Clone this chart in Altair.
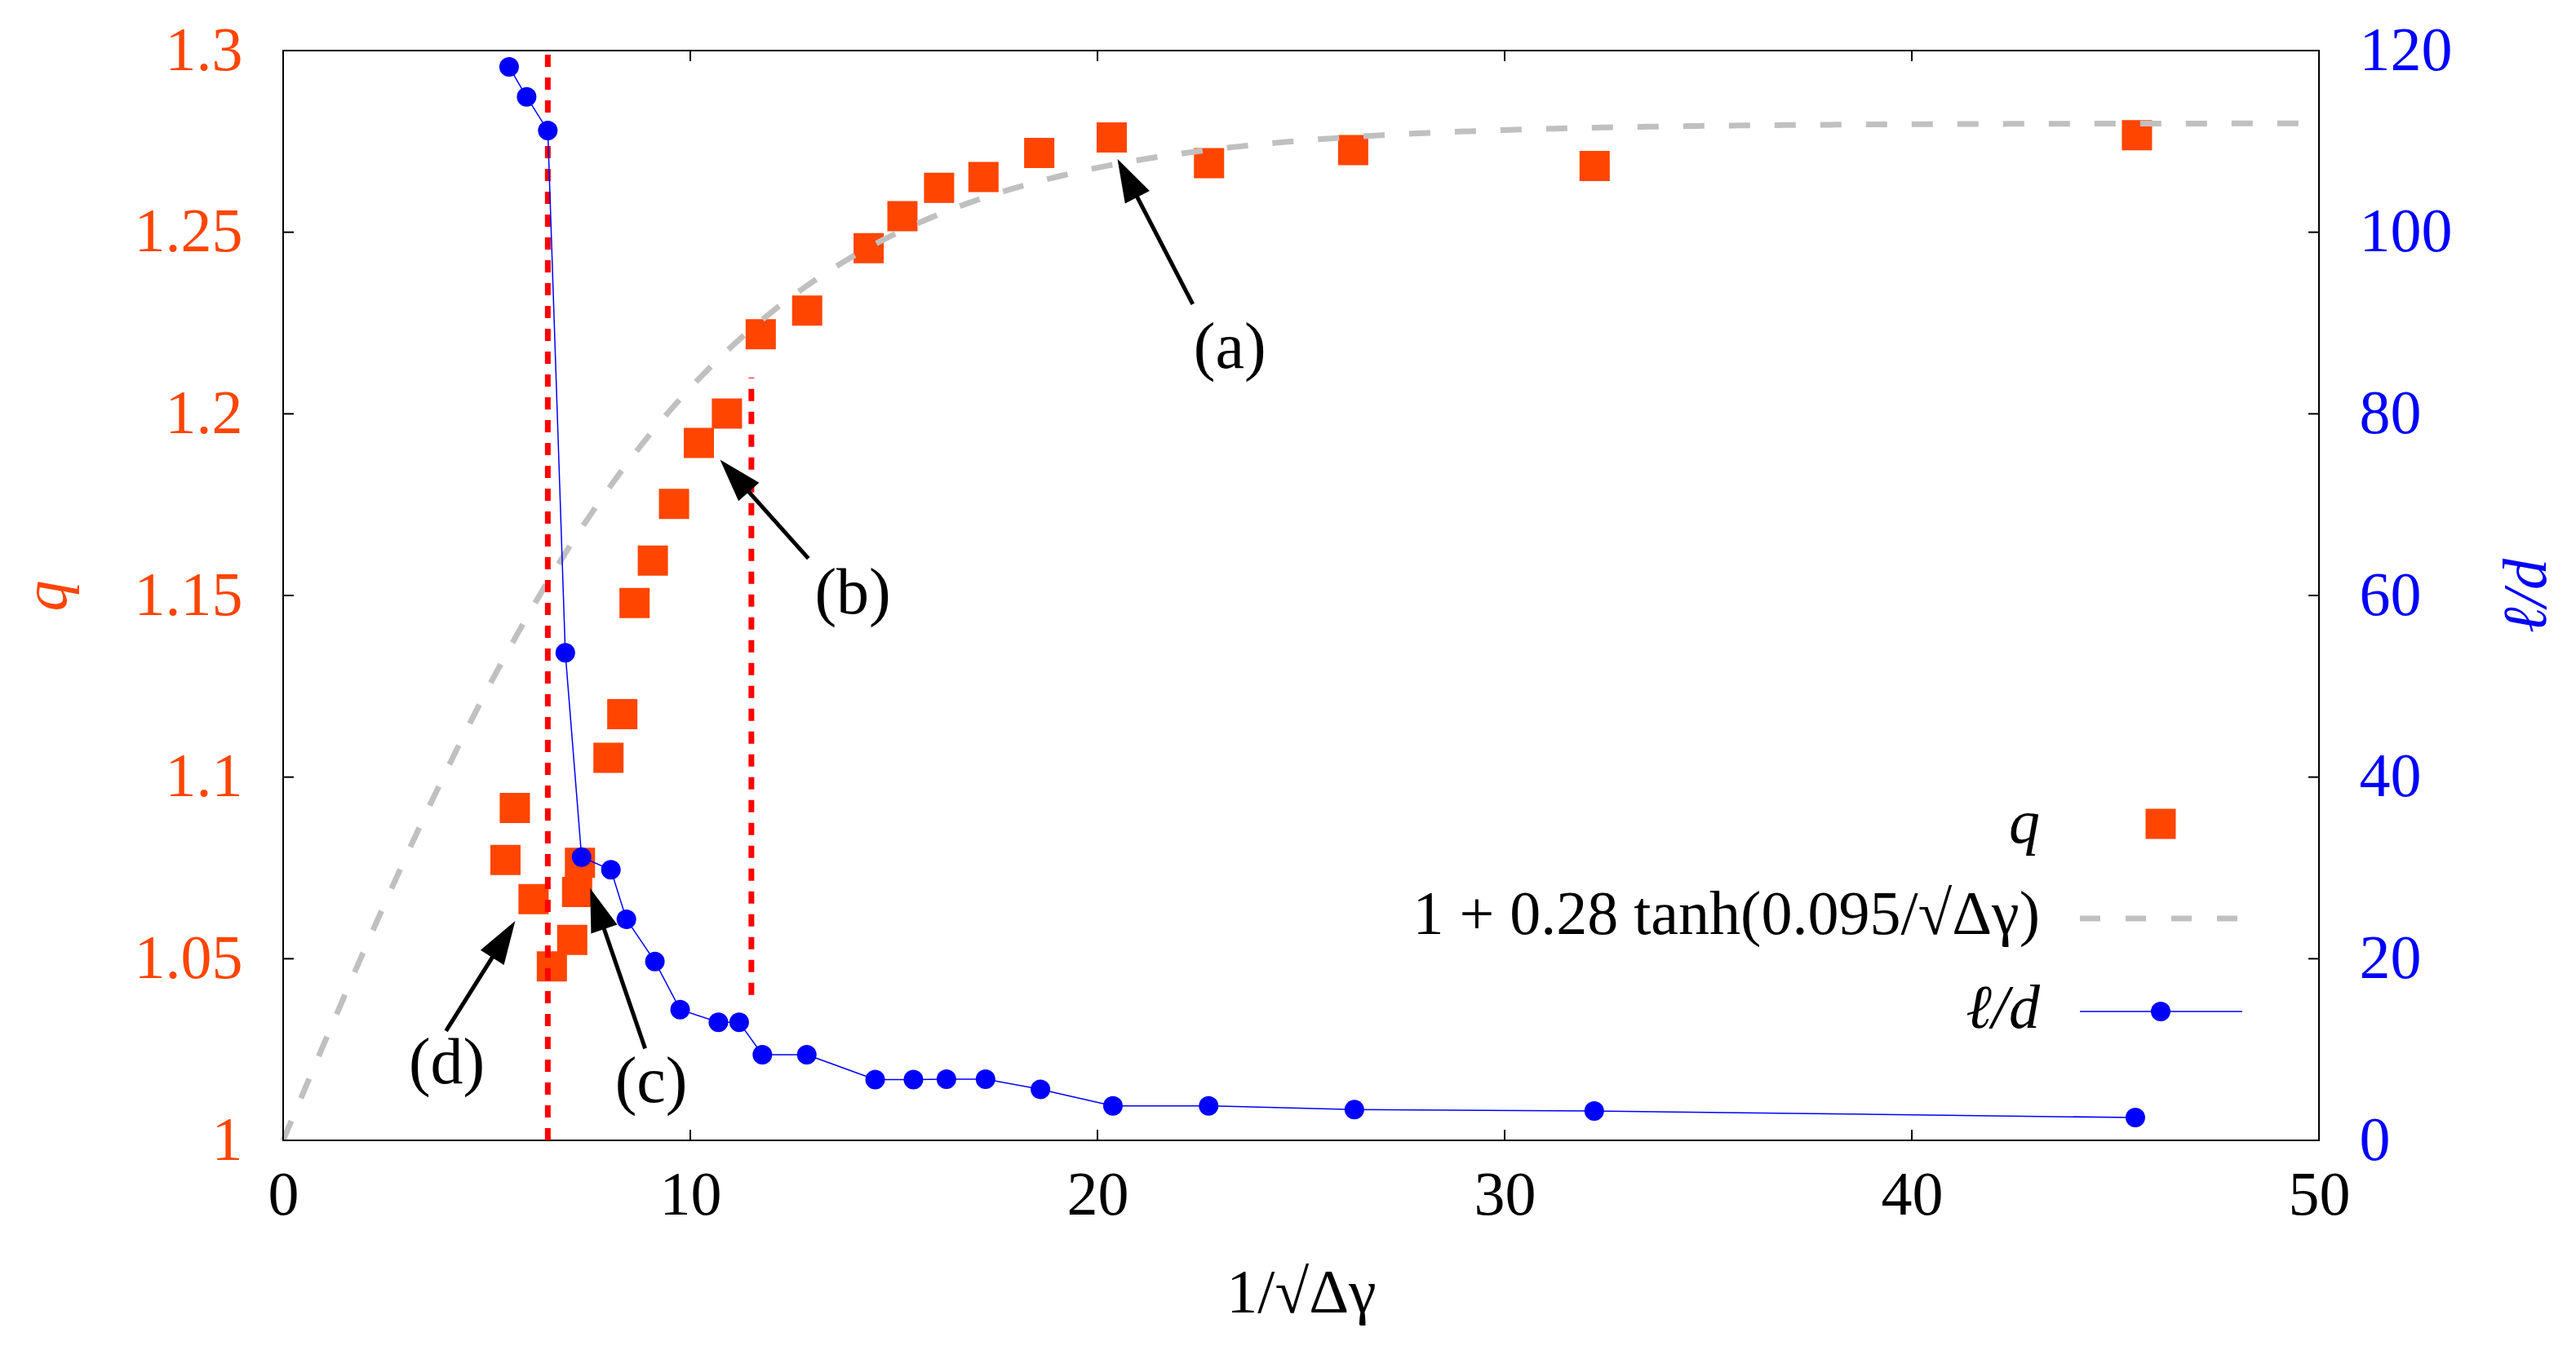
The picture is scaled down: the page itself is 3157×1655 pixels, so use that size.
import math
import numpy as np
import pandas as pd
import altair as alt

# ---------------- data ----------------
QX = [5.46, 5.69, 6.15, 6.60, 7.10, 7.22, 7.29, 7.99, 8.33, 8.63, 9.08, 9.60, 10.21,
      10.90, 11.73, 12.87, 14.38, 15.21, 16.11, 17.20, 18.57, 20.35, 22.74, 26.28, 32.21, 45.53]
QY = [1.0772, 1.0915, 1.0664, 1.0479, 1.0552, 1.0684, 1.0764, 1.1053, 1.1173, 1.1479, 1.1596,
      1.1752, 1.1920, 1.2001, 1.2219, 1.2284, 1.2456, 1.2544, 1.2622, 1.2652, 1.2718, 1.2761,
      1.2690, 1.2726, 1.2682, 1.2767]

LX = [5.55, 5.98, 6.50, 6.93, 7.33, 8.05, 8.43, 9.13, 9.75, 10.69, 11.20, 11.77, 12.86,
      14.54, 15.48, 16.29, 17.25, 18.60, 20.38, 22.73, 26.31, 32.20, 45.49]
LY = [118.2, 114.9, 111.2, 53.7, 31.2, 29.8, 24.35, 19.7, 14.4, 13.0, 13.0, 9.43, 9.43,
      6.7, 6.7, 6.74, 6.74, 5.62, 3.80, 3.80, 3.38, 3.23, 2.51]

FIT_A = 0.28
FIT_B = 0.095

XTICKS = [0, 10, 20, 30, 40, 50]
QTICKS = [1, 1.05, 1.1, 1.15, 1.2, 1.25, 1.3]
LTICKS = [0, 20, 40, 60, 80, 100, 120]

VLINE_X = [6.5, 11.5]
VLINE_Y0 = [1.0, 1.04]
VLINE_Y1 = [1.3, 1.21]

ANN_LABEL = ["(a)", "(b)", "(c)", "(d)"]
ANN_LX = [23.25, 13.99, 9.04, 4.02]
ANN_LY = [1.218, 1.1505, 1.016, 1.021]
ARR_TAIL_X = [22.34, 12.90, 8.89, 4.00]
ARR_TAIL_Y = [1.2302, 1.1602, 1.0253, 1.0301]
ARR_TIP_X = [20.49, 10.73, 7.54, 5.70]
ARR_TIP_Y = [1.2702, 1.1874, 1.0694, 1.0604]

LEG_TEXT = ["q", "1 + 0.28 tanh(0.095/√Δγ)", "ℓ/d"]

# ---------------- layout / style ----------------
W, H = 2495, 1336
FONT = "Liberation Serif"
FS = 76
ORANGE = "#ff4500"
BLUE = "#0000ff"
GRAY = "#c0c0c0"
HEAD_LEN = 53

XMIN, XMAX = 0, 50
QMIN, QMAX = 1.0, 1.3
LMIN, LMAX = 0, 120

xs = alt.Scale(domain=[XMIN, XMAX], nice=False, zero=False)
qs = alt.Scale(domain=[QMIN, QMAX], nice=False, zero=False)
ls = alt.Scale(domain=[LMIN, LMAX], nice=False, zero=False)

# ---------------- data frames ----------------
q_df = pd.DataFrame({"x": QX, "q": QY})
l_df = pd.DataFrame({"x": LX, "l": LY})
fx = np.linspace(XMIN, XMAX, 401)
fit_df = pd.DataFrame({"x": fx, "q": 1 + FIT_A * np.tanh(FIT_B * fx)})
vl_df = pd.DataFrame({"x": VLINE_X, "y0": VLINE_Y0, "y1": VLINE_Y1})
lab_df = pd.DataFrame({"t": ANN_LABEL, "x": ANN_LX, "y": ANN_LY})

pxx = W / (XMAX - XMIN)
pxy = H / (QMAX - QMIN)
rows = []
for tx, ty, hx, hy in zip(ARR_TAIL_X, ARR_TAIL_Y, ARR_TIP_X, ARR_TIP_Y):
    dx = (hx - tx) * pxx
    dy = -(hy - ty) * pxy
    L = math.hypot(dx, dy)
    ang = math.degrees(math.atan2(dx, -dy)) % 360
    h = HEAD_LEN * 0.8
    ex = hx - (dx / L * h) / pxx
    ey = hy + (dy / L * h) / pxy
    rows.append({"tx": tx, "ty": ty, "ex": ex, "ey": ey, "hx": hx, "hy": hy, "ang": ang})
arr_df = pd.DataFrame(rows)

xt_df = pd.DataFrame({"v": XTICKS})
qt_df = pd.DataFrame({"v": QTICKS})
one = pd.DataFrame({"a": [0]})

X_AXIS = alt.Axis(values=XTICKS, format="d", title="1/√Δγ", grid=False, domain=False,
                  ticks=False, tickSize=0, labelFont=FONT, labelFontSize=FS, labelColor="black",
                  labelPadding=30, labelLimit=0, labelFlush=False, labelOverlap=False,
                  titleFont=FONT, titleFontSize=FS,
                  titleFontWeight="normal", titleColor="black", titleX=W / 2, titleY=210,
                  titleBaseline="alphabetic", titleAlign="center", titleLimit=0)
Q_AXIS = alt.Axis(values=QTICKS, format="~g", title="q", orient="left", grid=False,
                  domain=False, ticks=False, tickSize=0, labelFont=FONT, labelFontSize=FS,
                  labelColor=ORANGE, labelPadding=50, labelLimit=0, labelFlush=False,
                  labelOverlap=False, titleFont=FONT,
                  titleFontSize=FS, titleFontWeight="normal", titleFontStyle="italic",
                  titleColor=ORANGE, titleX=-290, titleY=H / 2, titleAngle=270,
                  titleBaseline="middle", titleAlign="center", titleLimit=0)
L_AXIS = alt.Axis(values=LTICKS, format="d", title="ℓ/d", orient="right", grid=False,
                  domain=False, ticks=False, tickSize=0, labelFont=FONT, labelFontSize=FS,
                  labelColor=BLUE, labelPadding=49, labelLimit=0, labelFlush=False,
                  labelOverlap=False, titleFont=FONT,
                  titleFontSize=FS, titleFontWeight="normal", titleFontStyle="italic",
                  titleColor=BLUE, titleX=254, titleY=H / 2, titleAngle=270,
                  titleBaseline="middle", titleAlign="center", titleLimit=0)


def X(f):
    return alt.X(f, scale=xs, axis=X_AXIS)


def Yq(f):
    return alt.Y(f, scale=qs, axis=Q_AXIS)


def Yl(f):
    return alt.Y(f, scale=ls, axis=L_AXIS)


squares = alt.Chart(q_df).mark_square(size=1369, color=ORANGE, opacity=1).encode(
    x=X("x:Q"), y=Yq("q:Q"))

fit = alt.Chart(fit_df).mark_line(color=GRAY, strokeWidth=7, strokeDash=[26, 30]).encode(
    x=X("x:Q"), y=Yq("q:Q"))

vlines = alt.Chart(vl_df).mark_rule(color="#ff0000", strokeWidth=7, strokeDash=[15, 13]).encode(
    x=X("x:Q"), y=Yq("y0:Q"), y2="y1:Q")

shafts = alt.Chart(arr_df).mark_rule(color="black", strokeWidth=5).encode(
    x=X("tx:Q"), y=Yq("ty:Q"), x2="ex:Q", y2="ey:Q")

heads = alt.Chart(arr_df).mark_point(
    shape="M0,0L0.32,1L-0.32,1Z", size=(2 * HEAD_LEN) ** 2, filled=True,
    color="black", opacity=1, strokeWidth=0,
).encode(x=X("hx:Q"), y=Yq("hy:Q"), angle=alt.Angle("ang:Q", scale=None))

labels = alt.Chart(lab_df).mark_text(font=FONT, fontSize=80, color="black",
                                     align="center", baseline="middle").encode(
    x=X("x:Q"), y=Yq("y:Q"), text="t:N")

TICK = 13
tick_b = alt.Chart(xt_df).mark_rule(color="black", strokeWidth=2).encode(
    x=X("v:Q"), y=alt.value(H), y2=alt.value(H - TICK))
tick_t = alt.Chart(xt_df).mark_rule(color="black", strokeWidth=2).encode(
    x=X("v:Q"), y=alt.value(0), y2=alt.value(TICK))
tick_l = alt.Chart(qt_df).mark_rule(color="black", strokeWidth=2).encode(
    y=Yq("v:Q"), x=alt.value(0), x2=alt.value(TICK))
tick_r = alt.Chart(qt_df).mark_rule(color="black", strokeWidth=2).encode(
    y=Yq("v:Q"), x=alt.value(W), x2=alt.value(W - TICK))

# ---------------- legend (manual) ----------------
LEG_TX = 2153
LEG_SX = 2301
LEG_X0, LEG_X1 = 2202, 2401
leg_q_t = alt.Chart(one).mark_text(text=LEG_TEXT[0], font=FONT, fontSize=FS, fontStyle="italic",
                                   align="right", baseline="alphabetic", color="black").encode(
    x=alt.value(LEG_TX), y=alt.value(971))
leg_f_t = alt.Chart(one).mark_text(text=LEG_TEXT[1], font=FONT, fontSize=FS,
                                   align="right", baseline="alphabetic", color="black").encode(
    x=alt.value(LEG_TX), y=alt.value(1083))
leg_l_t = alt.Chart(one).mark_text(text=LEG_TEXT[2], font=FONT, fontSize=FS, fontStyle="italic",
                                   align="right", baseline="alphabetic", color="black").encode(
    x=alt.value(LEG_TX), y=alt.value(1198))
leg_q_s = alt.Chart(one).mark_square(size=1369, color=ORANGE, opacity=1).encode(
    x=alt.value(LEG_SX), y=alt.value(948))
leg_f_s = alt.Chart(one).mark_rule(color=GRAY, strokeWidth=7, strokeDash=[25, 31]).encode(
    x=alt.value(LEG_X0), x2=alt.value(LEG_X1), y=alt.value(1064))
leg_l_s = alt.Chart(one).mark_rule(color=BLUE, strokeWidth=1.5).encode(
    x=alt.value(LEG_X0), x2=alt.value(LEG_X1), y=alt.value(1178))
leg_l_p = alt.Chart(one).mark_circle(size=576, color=BLUE, opacity=1).encode(
    x=alt.value(LEG_SX), y=alt.value(1178))

q_layer = alt.layer(
    squares, fit, vlines, tick_b, tick_t, tick_l, tick_r,
    leg_q_t, leg_f_t, leg_l_t, leg_q_s, leg_f_s, leg_l_s, leg_l_p,
    shafts, heads, labels,
)

l_line = alt.Chart(l_df).mark_line(color=BLUE, strokeWidth=1.5).encode(
    x=X("x:Q"), y=Yl("l:Q"), order="x:Q")
l_pts = alt.Chart(l_df).mark_circle(size=576, color=BLUE, opacity=1).encode(
    x=X("x:Q"), y=Yl("l:Q"))
l_layer = alt.layer(l_line, l_pts)

chart = alt.layer(q_layer, l_layer).resolve_scale(y="independent").properties(
    width=W, height=H,
    autosize=alt.AutoSizeParams(type="none"),
    padding={"left": 339, "top": 54, "right": 300, "bottom": 240},
    background="white",
).configure_view(stroke="black", strokeWidth=2)

chart.save("out.html", embed_options={"renderer": "svg", "actions": False})
